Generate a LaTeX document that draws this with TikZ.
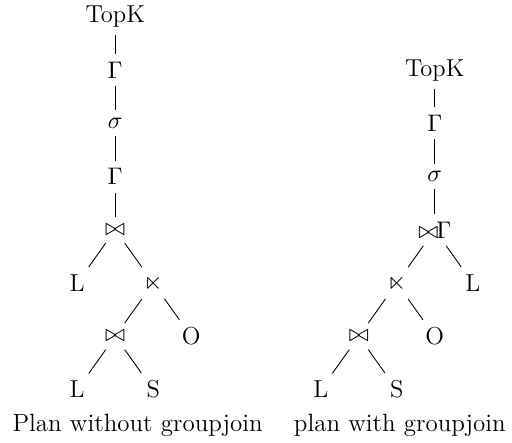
\documentclass[tikz,border=0pt]{standalone}
\usepackage{amsmath}
\usepackage{amssymb}
\usepackage{tikz}
\usetikzlibrary{calc}

\begin{document}
\begin{tikzpicture}[every node/.style={font=\fontsize{11.2}{13.5}\selectfont}]
    \def\ly{0.855}\def\dx{0.61}
    \newcommand{\gjoin}{\bowtie\mkern-6.5mu\Gamma}
    \useasboundingbox (0,0) rectangle (8.22,-7.11);
    % plan without groupjoin
    \path (1.85,-0.27) coordinate (A) (6.98,-0.27) coordinate (B);
    \path (A) node (at) {TopK}
      ++(0,-\ly) node (ag1) {$\Gamma$}
      ++(0,-\ly) node (as) {$\sigma$}
      ++(0,-\ly) node (ag2) {$\Gamma$}
      ++(0,-\ly) node (aj1) {$\bowtie$}
      ++(-\dx,-\ly) node (al1) {L}
      ++(2*\dx,0) node (asj) {$\ltimes$}
      ++(-\dx,-\ly) node (aj2) {$\bowtie$}
      ++(2*\dx,0) node (ao) {O}
      ++(-3*\dx,-\ly) node (al2) {L}
      ++(2*\dx,0) node (as2) {S};
    \foreach \x/\y in {at/ag1,ag1/as,as/ag2,ag2/aj1,aj1/al1,aj1/asj,asj/aj2,asj/ao,aj2/al2,aj2/as2}
      \draw (\x) -- (\y);
    % plan with groupjoin
    \path (B) ++(0,-\ly) node (bt) {TopK}
      ++(0,-\ly) node (bg) {$\Gamma$}
      ++(0,-\ly) node (bs) {$\sigma$}
      ++(0,-\ly) node (bgj) {$\gjoin$}
      ++(-\dx,-\ly) node (bsj) {$\ltimes$}
      ++(2*\dx,0) node (bl1) {L}
      ++(-3*\dx,-\ly) node (bj) {$\bowtie$}
      ++(2*\dx,0) node (bo) {O}
      ++(-3*\dx,-\ly) node (bl2) {L}
      ++(2*\dx,0) node (bs2) {S};
    \foreach \x/\y in {bt/bg,bg/bs,bs/bgj,bgj/bsj,bgj/bl1,bsj/bj,bsj/bo,bj/bl2,bj/bs2}
      \draw (\x) -- (\y);
    \node[anchor=base,font=\fontsize{11.4}{13.5}\selectfont] (ca) at (2.21,-6.93) {Plan without groupjoin};
    \node[anchor=base,font=\fontsize{11.4}{13.5}\selectfont] (cb) at (6.42,-6.93) {plan with groupjoin};
\end{tikzpicture}
\end{document}
